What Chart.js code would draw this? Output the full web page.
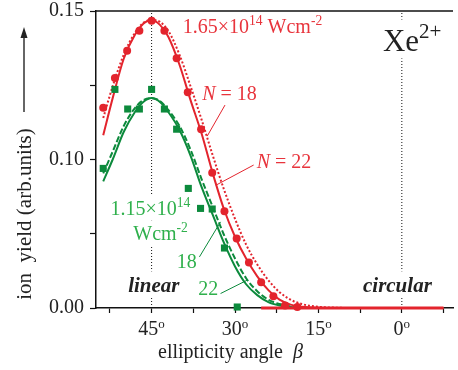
<!DOCTYPE html>
<html>
<head>
<meta charset="utf-8">
<script src="https://cdn.jsdelivr.net/npm/chart.js@4.4.1/dist/chart.umd.min.js"></script>
<style>
   html, body { margin: 0; padding: 0; background: #fff; }
   #ion-chart { display: block; width: 458px; height: 370px; }
</style>
</head>
<body>
<canvas id="ion-chart" width="458" height="370"></canvas>
<script>
// measured points, 1.65e14 W/cm2 (red) and 1.15e14 W/cm2 (green)
const redAngles = [53.7, 51.6, 49.4, 47.2, 45.0, 42.7, 40.5, 38.5, 36.1, 34.1, 31.9, 29.7, 27.5, 25.3, 23.1, 21.0, 18.8];
const redYield = [0.1011, 0.1161, 0.1299, 0.14, 0.1451, 0.14, 0.1261, 0.109, 0.0903, 0.0683, 0.0489, 0.0351, 0.023, 0.013, 0.0059, 0.0012, 0.0005];
const greenAngles = [53.7, 51.6, 49.3, 47.2, 45.0, 42.7, 40.5, 38.4, 36.2, 34.1, 31.9, 29.6];
const greenYield = [0.0705, 0.1104, 0.1005, 0.1005, 0.1104, 0.1005, 0.0903, 0.0604, 0.0503, 0.05, 0.0303, 0.0005];

// red points sitting on the zero line
const redFloorAngles = [25.3, -7.5];
const redFloorYield = [0, 0];

// model curves, N = 18 and N = 22
const fitAngles = [53.7, 52, 50, 48, 46.5, 45, 43.5, 42, 40, 38, 36, 34, 32, 30, 28, 26, 24, 22, 20, 18, 15, 12, 9, 5, 0, -7.5];
const redFit18 = [0.096, 0.112, 0.128, 0.139, 0.144, 0.1455, 0.1445, 0.14, 0.128, 0.112, 0.095, 0.077, 0.06, 0.045, 0.032, 0.022, 0.014, 0.008, 0.0042, 0.002, 0.0006, 0.0002, 0, 0, 0, 0];
const redFit22 = [0.0873, 0.106, 0.126, 0.138, 0.1435, 0.1455, 0.143, 0.137, 0.123, 0.105, 0.088, 0.068, 0.05, 0.036, 0.025, 0.016, 0.009, 0.0042, 0.0017, 0.0006, 0.0001, 0, 0, 0, 0, 0];
const greenFit18 = [0.068, 0.079, 0.092, 0.101, 0.105, 0.106, 0.1045, 0.1, 0.092, 0.08, 0.065, 0.051, 0.037, 0.025, 0.015, 0.0085, 0.0042, 0.002, 0.0008, 0.0002, 0, 0, 0, 0, 0, 0];
const greenFit22 = [0.064, 0.075, 0.089, 0.099, 0.104, 0.106, 0.104, 0.099, 0.09, 0.077, 0.061, 0.047, 0.033, 0.021, 0.012, 0.0065, 0.003, 0.0013, 0.0005, 0.0001, 0, 0, 0, 0, 0, 0];

// linear / circular polarisation markers
const refAngles = [45, 0];

// axis ticks
const xTickLabels = [45, 30, 15, 0];
const yTickLabels = ["0.00", "", "0.10", "", "0.15"];

const serif = "'Liberation Serif', 'Times New Roman', serif";
const RED = "#e3242d";
const RED_TEXT = "#e8343c";
const GREEN = "#0c8a3c";
const GREEN_TEXT = "#2fb04c";

function pts(xs, ys) {
   return xs.map((x, i) => ({ x: x, y: ys[i] }));
}

function curve(label, ys, color, dash) {
   return {
      label: label,
      data: pts(fitAngles, ys),
      showLine: true,
      borderColor: color,
      borderWidth: 2,
      borderDash: dash,
      pointRadius: 0,
      tension: 0.4,
      cubicInterpolationMode: "monotone",
      clip: false,
   };
}

// text pieces, sup = superscript
function richWidth(ctx, parts, size, style) {
   let w = 0;
   parts.forEach((p) => {
      ctx.font = (p.it ? "italic " : style) + (p.sup ? size * 0.68 : size) + "px " + serif;
      w += ctx.measureText(p.t).width;
   });
   return w;
}

function drawRich(ctx, parts, x, y, size, color, style, align) {
   style = style || "";
   const w = richWidth(ctx, parts, size, style);
   let cx = align === "center" ? x - w / 2 : x;
   ctx.fillStyle = color;
   ctx.textAlign = "left";
   ctx.textBaseline = "alphabetic";
   parts.forEach((p) => {
      const s = p.sup ? size * 0.68 : size;
      ctx.font = (p.it ? "italic " : style) + s + "px " + serif;
      ctx.fillText(p.t, cx, p.sup ? y - size * 0.4 : y);
      cx += ctx.measureText(p.t).width;
   });
   return w;
}

const labels = [
   { at: [39.4, 0.1389], size: 20, color: RED_TEXT, parts: [{ t: "1.65×10" }, { t: "14", sup: true }, { t: " Wcm" }, { t: "-2", sup: true }] },
   { at: [35.9, 0.105], size: 20, color: RED_TEXT, parts: [{ t: "N", it: true }, { t: " = 18" }] },
   { at: [26.1, 0.0706], size: 20, color: RED_TEXT, parts: [{ t: "N", it: true }, { t: " = 22" }] },
   { at: [52.4, 0.0469], size: 20, color: GREEN_TEXT, box: true, parts: [{ t: "1.15×10" }, { t: "14", sup: true }] },
   { at: [48.3, 0.0342], size: 20, color: GREEN_TEXT, box: true, parts: [{ t: "Wcm" }, { t: "-2", sup: true }] },
   { at: [40.5, 0.0201], size: 20, color: GREEN_TEXT, parts: [{ t: "18" }] },
   { at: [36.6, 0.0064], size: 20, color: GREEN_TEXT, parts: [{ t: "22" }] },
   { at: [44.6, 0.0079], size: 21, color: "#222", style: "italic bold ", align: "center", box: true, parts: [{ t: "linear" }] },
   { at: [0.8, 0.0079], size: 21, color: "#222", style: "italic bold ", align: "center", box: true, parts: [{ t: "circular" }] },
   { at: [3.4, 0.13], size: 31, color: "#222", box: true, parts: [{ t: "Xe" }, { t: "2+", sup: true }] },
];

const leaders = [
   { from: [31.8, 0.1025], to: [35.0, 0.0868], color: RED },
   { from: [26.65, 0.0722], to: [33.45, 0.062], color: RED },
   { from: [36.4, 0.0258], to: [32.6, 0.0435], color: GREEN },
   { from: [32.6, 0.0073], to: [27.85, 0.014], color: GREEN },
];

const decorPlugin = {
   id: "decor",
   afterDatasetsDraw(chart) {
      const ctx = chart.ctx;
      const xs = chart.scales.x;
      const ys = chart.scales.y;
      const area = chart.chartArea;
      ctx.save();

      // top frame
      ctx.strokeStyle = "#111";
      ctx.lineWidth = 1.5;
      ctx.beginPath();
      ctx.moveTo(area.left, area.top);
      ctx.lineTo(area.right, area.top);
      ctx.stroke();

      // white boxes cut the dotted markers behind labels
      labels.forEach((l) => {
         if (!l.box) return;
         const w = richWidth(ctx, l.parts, l.size, l.style || "");
         let x = xs.getPixelForValue(l.at[0]);
         const y = ys.getPixelForValue(l.at[1]);
         if (l.align === "center") x -= w / 2;
         ctx.fillStyle = "#fff";
         ctx.fillRect(x - 2, y - l.size * 1.0, w + 4, l.size * 1.25);
      });

      leaders.forEach((d) => {
         ctx.strokeStyle = d.color;
         ctx.lineWidth = 1;
         ctx.beginPath();
         ctx.moveTo(xs.getPixelForValue(d.from[0]), ys.getPixelForValue(d.from[1]));
         ctx.lineTo(xs.getPixelForValue(d.to[0]), ys.getPixelForValue(d.to[1]));
         ctx.stroke();
      });

      labels.forEach((l) => {
         drawRich(ctx, l.parts, xs.getPixelForValue(l.at[0]), ys.getPixelForValue(l.at[1]), l.size, l.color, l.style, l.align);
      });

      // x tick labels with ordinal o
      xTickLabels.forEach((v) => {
         const x = xs.getPixelForValue(v);
         ctx.font = "20px " + serif;
         const nw = ctx.measureText(String(v)).width;
         ctx.font = "13px " + serif;
         const ow = ctx.measureText("o").width;
         const left = x - (nw + ow) / 2;
         ctx.fillStyle = "#222";
         ctx.textAlign = "left";
         ctx.textBaseline = "alphabetic";
         ctx.font = "20px " + serif;
         ctx.fillText(String(v), left, 335);
         ctx.font = "13px " + serif;
         ctx.fillText("o", left + nw, 327.5);
      });

      // axis titles
      drawRich(ctx, [{ t: "ellipticity angle  " }, { t: "β", it: true }], 158, 358, 20, "#222");
      ctx.translate(31, 214);
      ctx.rotate(-Math.PI / 2);
      drawRich(ctx, [{ t: "ion  yield (arb.units)" }], 0, 0, 21, "#222", "", "center");
      ctx.setTransform(1, 0, 0, 1, 0, 0);

      // arrow next to the y title
      ctx.strokeStyle = "#333";
      ctx.fillStyle = "#222";
      ctx.lineWidth = 1.5;
      ctx.beginPath();
      ctx.moveTo(24, 112);
      ctx.lineTo(24, 36);
      ctx.stroke();
      ctx.beginPath();
      ctx.moveTo(24, 27);
      ctx.lineTo(20.5, 38);
      ctx.lineTo(27.5, 38);
      ctx.closePath();
      ctx.fill();

      ctx.restore();
   },
};

const ctx = document.getElementById("ion-chart").getContext("2d");
const ionChart = new Chart(ctx, {
   type: "scatter",
   data: {
      datasets: [
         {
            label: "1.65e14 data",
            data: pts(redAngles, redYield),
            pointStyle: "circle",
            pointRadius: 4,
            backgroundColor: RED,
            borderWidth: 0,
            clip: false,
         },
         {
            label: "1.15e14 data",
            data: pts(greenAngles, greenYield),
            pointStyle: "rect",
            pointRadius: 5,
            backgroundColor: GREEN,
            borderWidth: 0,
            clip: false,
         },
         {
            label: "red zero",
            data: pts(redFloorAngles, redFloorYield),
            showLine: true,
            borderColor: RED,
            borderWidth: 3,
            pointRadius: 0,
            clip: false,
         },
         curve("red N=22", redFit22, RED, []),
         curve("red N=18", redFit18, RED, [2, 2]),
         curve("green N=22", greenFit22, GREEN, []),
         curve("green N=18", greenFit18, GREEN, [6, 2.5]),
         ...refAngles.map((a) => ({
            label: "ref " + a,
            data: [{ x: a, y: 0 }, { x: a, y: 0.15 }],
            showLine: true,
            borderColor: "#111",
            borderWidth: 1,
            borderDash: [1, 2],
            pointRadius: 0,
         })),
      ],
   },
   options: {
      responsive: false,
      animation: false,
      layout: { padding: { top: 11, left: 0, right: 0, bottom: 0 } },
      plugins: {
         legend: { display: false },
         tooltip: { enabled: false },
      },
      scales: {
         x: {
            type: "linear",
            reverse: true,
            min: -9.2,
            max: 55,
            afterFit: (scale) => {
               scale.height = 62;
               scale.paddingLeft = 0;
               scale.paddingRight = 0;
            },
            border: { color: "#111", width: 1.5 },
            grid: { drawOnChartArea: false, tickLength: 5, color: "#111", tickWidth: 1.2 },
            ticks: {
               stepSize: 7.5,
               includeBounds: false,
               autoSkip: false,
               maxRotation: 0,
               callback: () => "",
            },
         },
         y: {
            min: 0,
            max: 0.15,
            afterFit: (scale) => {
               scale.width = 96;
               scale.paddingTop = 0;
               scale.paddingBottom = 0;
            },
            border: { color: "#111", width: 1.5 },
            grid: { drawOnChartArea: false, tickLength: 6, color: "#111", tickWidth: 1.2 },
            ticks: {
               stepSize: 0.0375,
               padding: 6,
               color: "#222",
               font: { family: serif, size: 20 },
               callback: (value, index) => yTickLabels[index],
            },
         },
      },
   },
   plugins: [decorPlugin],
});
</script>
</body>
</html>
